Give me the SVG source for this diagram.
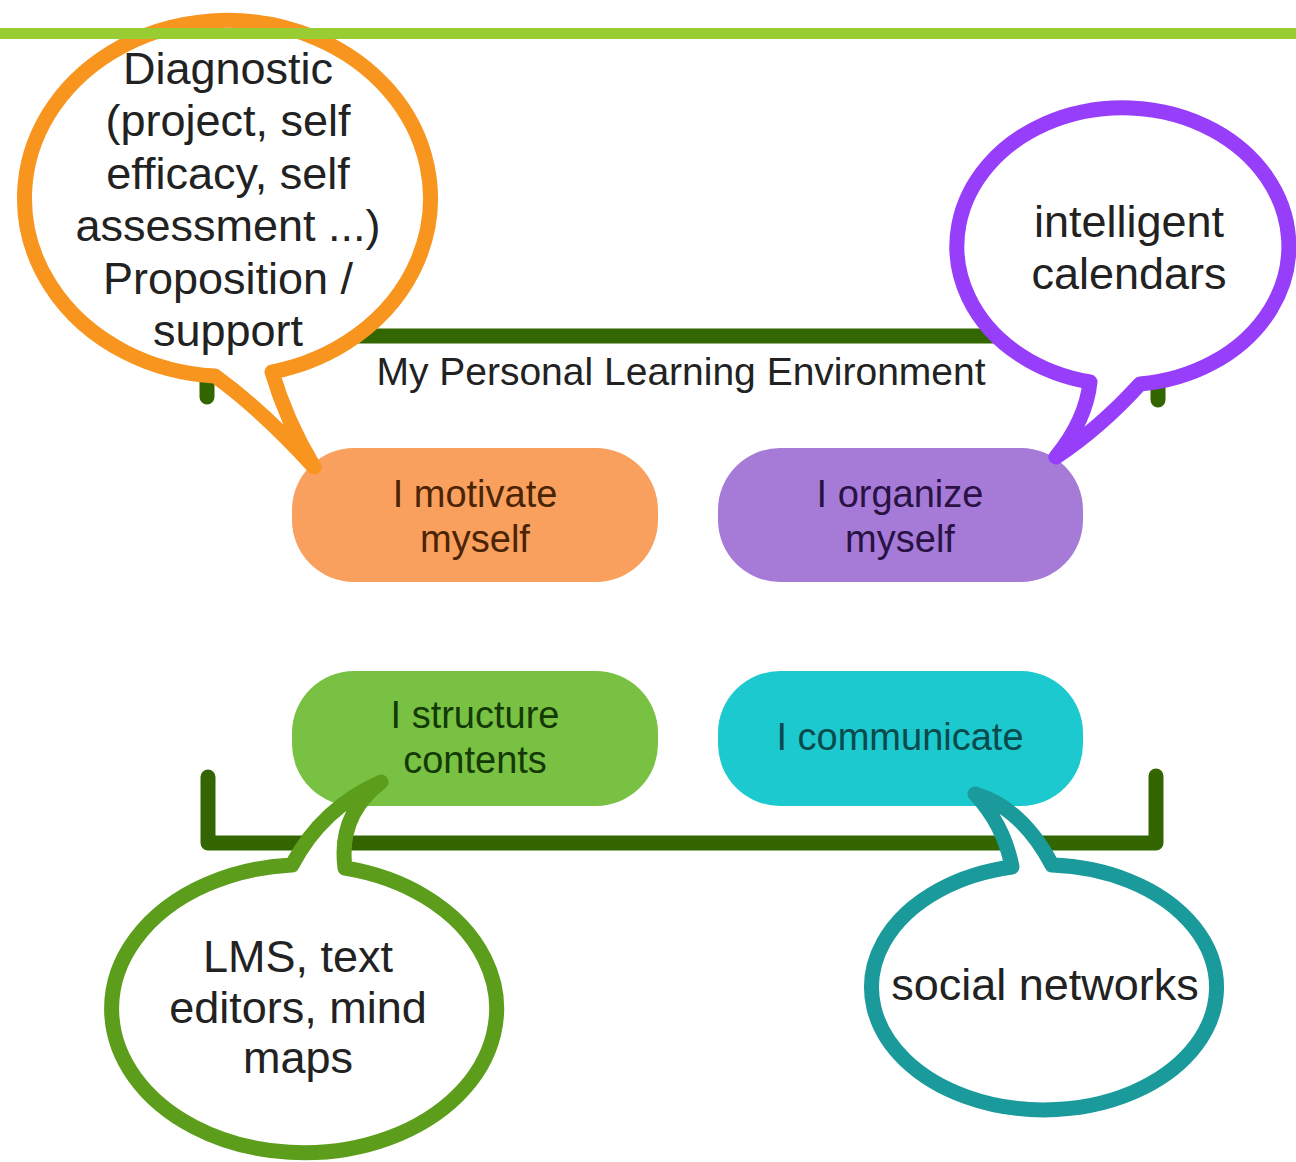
<svg xmlns="http://www.w3.org/2000/svg" width="1296" height="1162" viewBox="0 0 1296 1162">
<style>
.bar{fill:#99cc33}
.br{fill:none;stroke:#336600;stroke-width:15;stroke-linecap:round;stroke-linejoin:round}
.t{font-family:"Liberation Sans",Arial,Helvetica,sans-serif;text-anchor:middle}
.pl{font-size:38px}
.bl{font-size:45px;fill:#222}
.ball{fill:#fff;stroke-width:15;stroke-linejoin:round}
</style>
<rect width="1296" height="1162" fill="#fff"/>
<g id="connectors">
<path class="br" d="M207,397 L207,336 L1158,336 L1158,400"/>
<path class="br" d="M208,777 L208,843 L1156,843 L1156,776"/>
</g>
<g id="title">
<text class="t" x="681" y="385" font-size="39" fill="#222">My Personal Learning Environment</text>
</g>
<g id="motivate">
<rect x="292" y="448" width="366" height="134" rx="62" fill="#f9a05e"/>
<text class="t pl" fill="#4a2405"><tspan x="475" y="507">I motivate</tspan><tspan x="475" y="552">myself</tspan></text>
</g>
<g id="organize">
<rect x="718" y="448" width="365" height="134" rx="62" fill="#a67bd8"/>
<text class="t pl" fill="#2a1245"><tspan x="900" y="507">I organize</tspan><tspan x="900" y="552">myself</tspan></text>
</g>
<g id="structure">
<rect x="292" y="671" width="366" height="135" rx="62" fill="#79c143"/>
<text class="t pl" fill="#133a05"><tspan x="475" y="728">I structure</tspan><tspan x="475" y="773">contents</tspan></text>
</g>
<g id="communicate">
<rect x="718" y="671" width="365" height="135" rx="62" fill="#1cc9ce"/>
<text class="t pl" fill="#0b4a4c" x="900" y="750">I communicate</text>
</g>
<g id="balloon-diagnostic">
<path class="ball" stroke="#f7951e" d="M272,372 A203 178 0 1 0 215,376 Q262,410 314,467 Q286,420 272,372 Z"/>
<text class="t bl"><tspan x="228" y="84">Diagnostic</tspan><tspan x="228" y="136">(project, self</tspan><tspan x="228" y="189">efficacy, self</tspan><tspan x="228" y="241">assessment ...)</tspan><tspan x="228" y="294">Proposition /</tspan><tspan x="228" y="346">support</tspan></text>
</g>
<g id="balloon-calendars">
<path class="ball" stroke="#973efa" d="M1090,382 A166 138.5 0 1 1 1140,384 Q1100,428 1056,457 Q1086,420 1090,382 Z"/>
<text class="t bl"><tspan x="1129" y="237">intelligent</tspan><tspan x="1129" y="289">calendars</tspan></text>
</g>
<g id="balloon-lms">
<path class="ball" stroke="#5c9e1c" d="M345,868 A192.5 144 0 1 1 292,865 Q322,808 381,782 Q338,815 345,868 Z"/>
<text class="t bl"><tspan x="298" y="972">LMS, text</tspan><tspan x="298" y="1023">editors, mind</tspan><tspan x="298" y="1073">maps</tspan></text>
</g>
<g id="balloon-social">
<path class="ball" stroke="#1a9a9b" d="M1052,865 A172.5 122.5 0 1 1 1012,867 Q1004,825 975,794 Q1022,808 1052,865 Z"/>
<text class="t bl" x="1045" y="1000">social networks</text>
</g>
<rect class="bar" x="0" y="28" width="1296" height="11"/>
</svg>
